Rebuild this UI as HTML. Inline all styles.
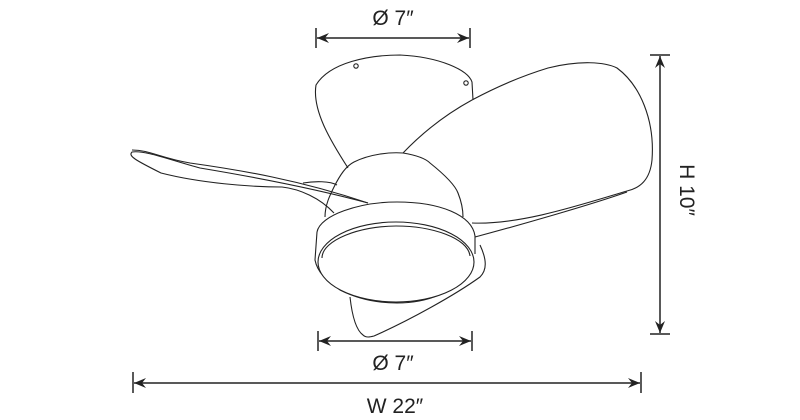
<!DOCTYPE html>
<html><head><meta charset="utf-8"><style>
html,body{margin:0;padding:0;background:#fff;}
svg{display:block}
text{font-family:"Liberation Sans",sans-serif;fill:#222}
</style></head><body>
<svg width="800" height="420" viewBox="0 0 800 420" xmlns="http://www.w3.org/2000/svg">
<defs>
<marker id="a" viewBox="0 0 12 10" refX="12" refY="5" markerWidth="12" markerHeight="10" orient="auto-start-reverse" markerUnits="userSpaceOnUse">
<path d="M0,0 L12,5 L0,10 L4,5 Z" fill="#222"/></marker>
</defs>
<g fill="none" stroke="#222" stroke-width="1.1" stroke-linejoin="round">
<!-- top blade -->
<path d="M348,168 C330,140 312,110 316,85 C330,62 370,55 400,55 C440,57 468,70 472,82 L473,100"/>
<circle cx="356" cy="66" r="2.2"/><circle cx="466" cy="83" r="2.2"/>
<!-- right blade -->
<path d="M403,153 C425,130 450,112 472,100 C500,85 525,75 548,68 C580,60 605,62 617,68 C640,85 655,120 652,160 C650,180 640,188 627,191 C580,205 520,225 472,223"/>
<path d="M627,192 C590,205 520,225 475,237"/>
<!-- left blade -->
<path d="M368,203 C320,190 260,178 200,168 C170,160 145,150 132,152 C128,156 135,160 161,173 C200,183 250,187 282,187 C300,189 320,198 334,213"/>
<path d="M132,150 C150,150 160,158 190,163 C240,170 300,180 368,203"/>
<path d="M303,183 C315,181 330,181 337,185"/>
<!-- hub dome -->
<path d="M325,217 C325,205 330,195 334,187 C340,175 346,166 354,162 C370,154 390,152 403,153 C415,155 425,158 430,163 C445,175 455,185 458,193 C462,203 463,210 463,217"/>
<!-- lower blade -->
<path d="M350,297 C352,315 356,330 363,335 C366,338 370,337 374,336 C410,320 455,295 480,277 C487,270 487,260 480,245"/>
<!-- ring -->
<path d="M317,232 C320,215 360,202 397,202 C440,202 472,215 475,236 L475,254"/>
<path d="M317,232 L315,260 C318,275 330,282 340,290 C360,300 380,303 397,303 C430,303 455,290 468,276"/>
<ellipse cx="396" cy="262" rx="78" ry="40" fill="#fff"/>
<path d="M322,258 C322,240 360,226 396,226 C432,226 468,238 470,256"/>
</g>
<!-- dimensions -->
<g stroke="#222" stroke-width="1.5" fill="none">
<line x1="316" y1="28" x2="316" y2="48"/><line x1="470" y1="28" x2="470" y2="48"/>
<line x1="317" y1="38" x2="469" y2="38" marker-start="url(#a)" marker-end="url(#a)"/>
<line x1="318" y1="331" x2="318" y2="351"/><line x1="472" y1="331" x2="472" y2="351"/>
<line x1="319" y1="341" x2="471" y2="341" marker-start="url(#a)" marker-end="url(#a)"/>
<line x1="133" y1="372" x2="133" y2="393"/><line x1="641" y1="372" x2="641" y2="393"/>
<line x1="134" y1="383" x2="640" y2="383" marker-start="url(#a)" marker-end="url(#a)"/>
<line x1="650" y1="55" x2="670" y2="55"/><line x1="650" y1="334" x2="670" y2="334"/>
<line x1="660" y1="56" x2="660" y2="333" marker-start="url(#a)" marker-end="url(#a)"/>
</g>
<text x="393" y="25" font-size="21" text-anchor="middle">Ø 7″</text>
<text x="393" y="370" font-size="21" text-anchor="middle">Ø 7″</text>
<text x="395" y="413" font-size="21" text-anchor="middle">W 22″</text>
<text x="0" y="0" font-size="21" text-anchor="middle" transform="translate(680,190) rotate(90)">H 10″</text>
</svg>
</body></html>
